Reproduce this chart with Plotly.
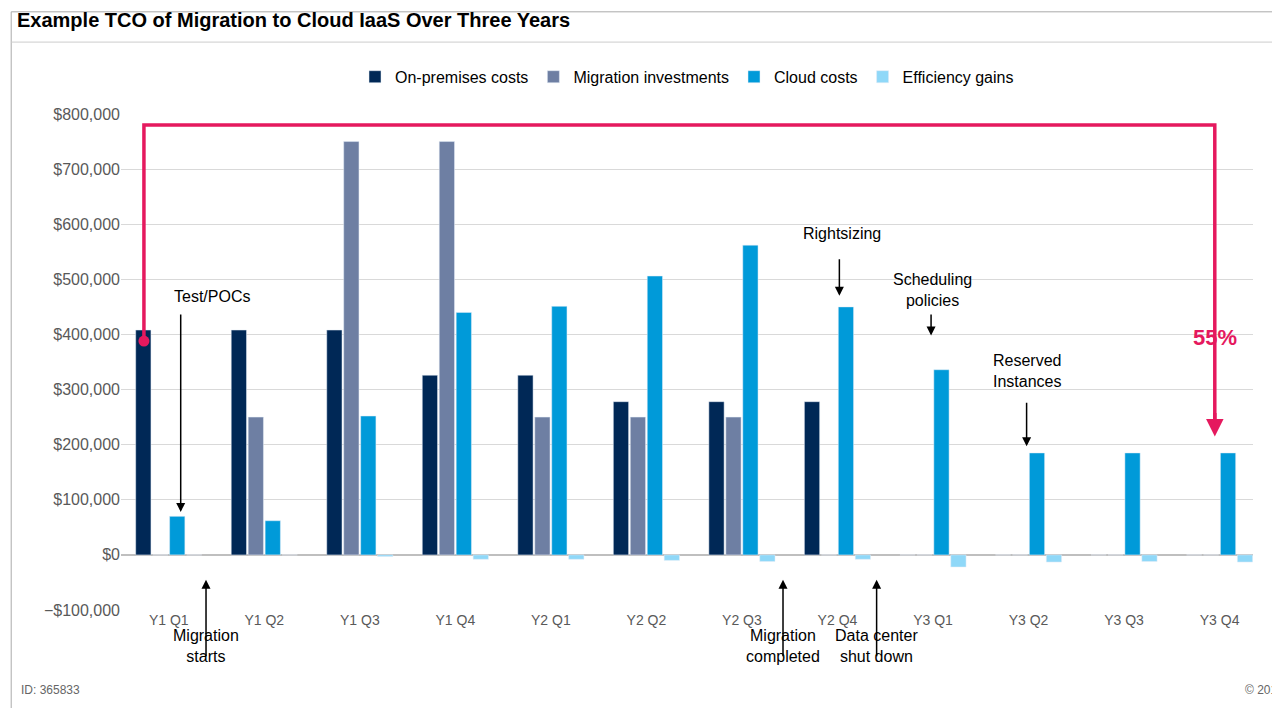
import plotly.graph_objects as go

quarters = ["Y1 Q1", "Y1 Q2", "Y1 Q3", "Y1 Q4", "Y2 Q1", "Y2 Q2",
            "Y2 Q3", "Y2 Q4", "Y3 Q1", "Y3 Q2", "Y3 Q3", "Y3 Q4"]
on_prem = [408000, 408000, 408000, 326000, 326000, 278000, 278000, 278000, 0, 0, 0, 0]
migration = [0, 250000, 750000, 750000, 250000, 250000, 250000, 0, 0, 0, 0, 0]
cloud = [70000, 62000, 252000, 440000, 451000, 506000, 562000, 450000, 336000, 185000, 185000, 185000]
efficiency = [0, 0, -3000, -8000, -8000, -10000, -12000, -8000, -22000, -13000, -12000, -13000]

series = [("On-premises costs", on_prem, "#002856"),
          ("Migration investments", migration, "#6E7FA3"),
          ("Cloud costs", cloud, "#009AD9"),
          ("Efficiency gains", efficiency, "#8FD8F8")]

xs = list(range(len(quarters)))
fig = go.Figure()
for name, vals, col in series:
    fig.add_trace(go.Bar(x=xs, y=vals, name=name, marker_color=col))

pink = "#E5195E"
# 55% reduction bracket
fig.add_shape(type="path", path="M -0.26,388000 L -0.26,780000 L 10.95,780000 L 10.95,235000",
              line=dict(color=pink, width=3.5), xref="x", yref="y")
fig.add_trace(go.Scatter(x=[-0.26], y=[388000], mode="markers", showlegend=False,
                         marker=dict(color=pink, size=11), hoverinfo="skip"))
fig.add_annotation(x=10.95, y=215000, ax=10.95, ay=260000, axref="x", ayref="y",
                   showarrow=True, arrowhead=2, arrowsize=1, arrowwidth=3.5, arrowcolor=pink, text="")
fig.add_annotation(x=10.95, y=395000, text="<b>55%</b>", showarrow=False,
                   font=dict(size=22, color=pink))

# call-outs above the bars: (text, text_x, text_y, arrow_x, tail_y, head_y)
callouts = [("Test/POCs", 0.45, 468000, 0.125, 439000, 78000),
            ("Rightsizing", 7.05, 584000, 7.02, 539000, 470000),
            ("Scheduling<br>policies", 8.0, 480000, 7.98, 439000, 398000),
            ("Reserved<br>Instances", 8.98, 334000, 8.98, 279000, 197000)]
for txt, tx, ty, axx, tail, head in callouts:
    fig.add_annotation(x=tx, y=ty, text=txt, showarrow=False, font=dict(size=16, color="black"))
    fig.add_annotation(x=axx, y=head, ax=axx, ay=tail, axref="x", ayref="y", text="",
                       showarrow=True, arrowhead=2, arrowsize=1.2, arrowwidth=1.5, arrowcolor="black")

# milestones below the axis: (text, x)
milestones = [("Migration<br>starts", 0.39), ("Migration<br>completed", 6.43),
              ("Data center<br>shut down", 7.41)]
for txt, mx in milestones:
    fig.add_annotation(x=mx, y=-45000, ax=0, ay=78, text="", showarrow=True, arrowhead=2,
                       arrowsize=1.2, arrowwidth=1.5, arrowcolor="black")
    fig.add_annotation(x=mx, xref="x", yref="paper", y=-0.072, yanchor="middle", text=txt,
                       showarrow=False, font=dict(size=16, color="black"))

fig.add_annotation(xref="paper", yref="paper", x=-0.094, y=1.19, xanchor="left", yanchor="middle",
                   text="<b>Example TCO of Migration to Cloud IaaS Over Three Years</b>",
                   showarrow=False, font=dict(size=20, color="black"))
fig.add_annotation(xref="paper", yref="paper", x=-0.09, y=-0.18, xanchor="left",
                   text="ID: 365833", showarrow=False, font=dict(size=12, color="#666666"))
fig.add_annotation(xref="paper", yref="paper", x=1.09, y=-0.18, xanchor="right",
                   text="© 2018 Gartner, Inc.", showarrow=False, font=dict(size=12, color="#666666"))
fig.add_shape(type="rect", xref="paper", yref="paper", x0=-0.097, x1=1.097, y0=-0.206, y1=1.206,
              line=dict(color="#aaaaaa", width=1))
fig.add_shape(type="line", xref="paper", yref="paper", x0=-0.097, x1=1.097, y0=1.145, y1=1.145,
              line=dict(color="#cccccc", width=1))

fig.update_layout(
    width=1280, height=708, margin=dict(l=113, r=35, t=106, b=106, autoexpand=False),
    paper_bgcolor="white", plot_bgcolor="white",
    font=dict(family="Arial, Liberation Sans", size=16, color="#595959"),
    barmode="group", bargap=0.29, bargroupgap=0.1,
    legend=dict(orientation="h", x=0.5, xanchor="center", y=1.075, yanchor="middle",
                font=dict(size=16, color="black"), traceorder="normal"),
    xaxis=dict(tickvals=xs, ticktext=quarters, range=[-0.5, 11.35], showgrid=False,
               tickfont=dict(size=14, color="#595959"), ticklen=0, automargin=False),
    yaxis=dict(range=[-100000, 800000], dtick=100000, tickformat="$,.0f",
               gridcolor="#d9d9d9", zeroline=True, zerolinecolor="#bfbfbf", automargin=False,
               tickfont=dict(size=16, color="#595959")),
)
fig.write_html("out.html")
